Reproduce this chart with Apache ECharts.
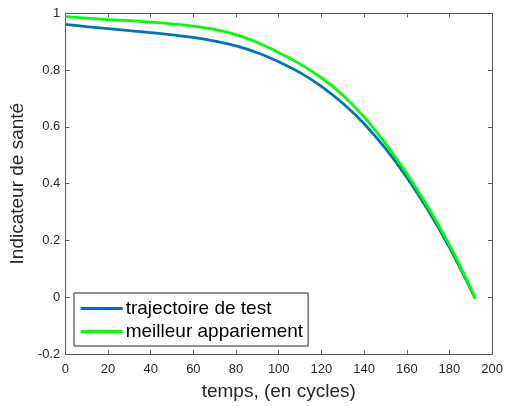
<!DOCTYPE html>
<html>
<head>
<meta charset="utf-8">
<script src="https://cdn.jsdelivr.net/npm/echarts@6/dist/echarts.min.js"></script>
<style>html,body{margin:0;padding:0;background:#fff}#c{width:506px;height:406px}</style>
</head>
<body>
<div id="c"></div>
<script>
const cycles = [0,10,20,30,40,50,60,70,80,90,100,110,120,130,140,150,160,170,180,190,192];
const testTraj = [0.961,0.953,0.946,0.939,0.932,0.924,0.915,0.902,0.885,0.861,0.829,0.791,0.743,0.683,0.611,0.524,0.422,0.306,0.175,0.028,-0.004];
const bestMatch = [0.988,0.983,0.978,0.974,0.969,0.963,0.955,0.943,0.925,0.897,0.862,0.822,0.773,0.712,0.635,0.542,0.436,0.317,0.184,0.032,-0.004];
const xTicks = [0,20,40,60,80,100,120,140,160,180,200];
const yTicks = [-0.2,0,0.2,0.4,0.6,0.8,1];
const seriesNames = ['trajectoire de test','meilleur appariement'];
const xName = 'temps, (en cycles)';
const yName = 'Indicateur de santé';

const axisColor = '#5a5a5a';
const textColor = '#262626';
const font = 'Liberation Sans, Arial, Helvetica, sans-serif';

const chart = echarts.init(document.getElementById('c'), null, {renderer:'canvas'});
const baseX = {
  type:'value', min:0, max:200, interval:20,
  axisLine:{show:true, onZero:false, lineStyle:{color:axisColor, width:1}},
  axisTick:{show:true, inside:true, length:4, lineStyle:{color:axisColor}},
  splitLine:{show:false}
};
const baseY = {
  type:'value', min:-0.2, max:1, interval:0.2,
  axisLine:{show:true, onZero:false, lineStyle:{color:axisColor, width:1}},
  axisTick:{show:true, inside:true, length:4, lineStyle:{color:axisColor}},
  splitLine:{show:false}
};
chart.setOption({
  animation:false,
  backgroundColor:'#fff',
  grid:{left:62, right:10.5, top:13.3, bottom:51},
  xAxis:[
    Object.assign({}, baseX, {
      position:'bottom',
      name:xName, nameLocation:'middle', nameGap:28,
      nameTextStyle:{color:textColor, fontSize:19, fontFamily:font},
      axisLabel:{show:true, margin:9, color:textColor, fontSize:13, fontFamily:font,
        formatter: v => xTicks.includes(v) ? String(v) : ''}
    }),
    Object.assign({}, baseX, {position:'top', axisLabel:{show:false}})
  ],
  yAxis:[
    Object.assign({}, baseY, {
      position:'left',
      name:yName, nameLocation:'middle', nameGap:31, nameRotate:90,
      nameTextStyle:{color:textColor, fontSize:19, fontFamily:font},
      axisLabel:{show:true, margin:5, color:textColor, fontSize:13, fontFamily:font,
        formatter: v => { const t = yTicks.find(k => Math.abs(k - v) < 1e-9); return t === undefined ? '' : String(Math.round(t*10)/10); }}
    }),
    Object.assign({}, baseY, {position:'right', axisLabel:{show:false}})
  ],
  legend:{
    orient:'vertical', left:74, top:293,
    data:seriesNames,
    icon:'rect', itemWidth:42, itemHeight:3, itemGap:4,
    padding:[6,5,5,6.7],
    borderColor:'#262626', borderWidth:1, backgroundColor:'#fff',
    textStyle:{color:'#000', fontSize:19, fontFamily:font, padding:[0,0,0,-2]}
  },
  series:[
    {name:seriesNames[0], type:'line', data:cycles.map((c,i)=>[c,testTraj[i]]),
     symbol:'none', smooth:0.4,
     lineStyle:{color:'#0072BD', width:2.8}, itemStyle:{color:'#0072BD'}},
    {name:seriesNames[1], type:'line', data:cycles.map((c,i)=>[c,bestMatch[i]]),
     symbol:'none', smooth:0.4,
     lineStyle:{color:'#00FF00', width:2.8}, itemStyle:{color:'#00FF00'}}
  ]
});
</script>
</body>
</html>
